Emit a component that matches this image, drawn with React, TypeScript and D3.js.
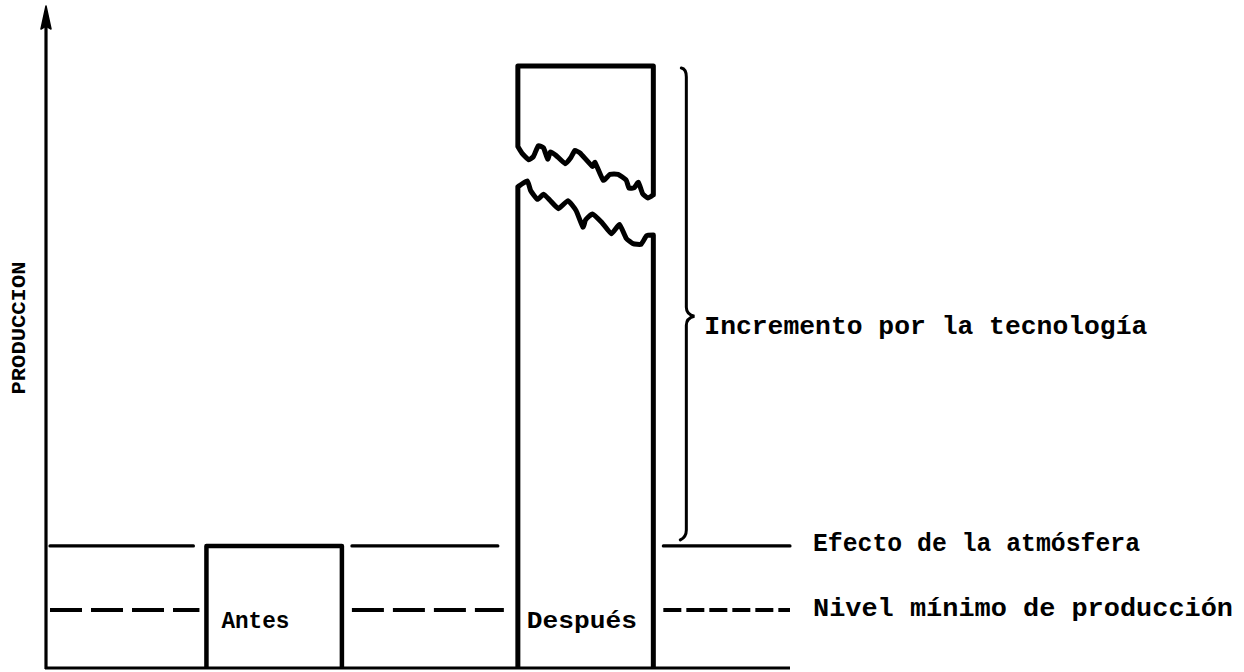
import React, { useEffect, useRef } from 'react';
import * as d3 from 'd3';

// categories and levels (production units, 0-100)
const categories = ['Antes', 'Después'];
const barTops = [18.5, 91.2];
const atmosLevel = 18.5;
const minLevel = 8.8;
const braceTip = 53.3;

const levelLabels = ['Efecto de la atmósfera', 'Nivel mínimo de producción'];
const incrementLabel = 'Incremento por la tecnología';
const axisLabel = 'PRODUCCION';

// broken top of the "Después" bar: [fraction across bar, value]
const breakUpper = [
  [0, 79.0], [0.03, 78.0], [0.08, 77.0], [0.115, 77.5], [0.15, 79.1], [0.19, 78.8],
  [0.22, 77.1], [0.24, 78.2], [0.28, 77.7], [0.35, 76.4], [0.39, 77.3], [0.42, 78.4],
  [0.46, 78.0], [0.55, 76.0], [0.57, 76.6], [0.63, 73.9], [0.68, 74.8], [0.74, 74.8],
  [0.8, 73.9], [0.82, 72.7], [0.86, 72.8], [0.89, 73.6], [0.92, 71.9], [0.96, 71.2], [1, 71.7],
];
const breakLower = [
  [0, 72.9], [0.07, 73.8], [0.095, 72.3], [0.145, 71.0], [0.19, 71.8], [0.24, 70.8],
  [0.3, 69.6], [0.37, 70.8], [0.43, 69.3], [0.48, 66.8], [0.5, 67.9], [0.55, 68.8],
  [0.62, 67.5], [0.69, 65.8], [0.75, 67.2], [0.8, 65.1], [0.85, 64.3], [0.91, 64.2],
  [0.95, 65.5], [1, 65.6],
];

const W = 1244;
const H = 672;
const FONT = '"Liberation Mono", "DejaVu Sans Mono", monospace';

const App = () => {
  const svgRef = useRef<SVGSVGElement>(null);

  useEffect(() => {
    const svg = d3.select(svgRef.current);
    svg.selectAll('*').remove();

    const axisX = 46;
    const axisEnd = 790;
    const y = d3.scaleLinear().domain([0, 100]).range([668, 8]);
    const x = d3.scaleBand()
      .domain(categories)
      .range([axisX, axisEnd])
      .paddingInner(0.565)
      .paddingOuter(0.477)
      .align(0.54);
    const bw = x.bandwidth();

    const g = svg.append('g');

    // y axis with arrow
    g.append('line')
      .attr('x1', axisX).attr('x2', axisX)
      .attr('y1', y(0) + 1).attr('y2', 14)
      .attr('stroke', '#000').attr('stroke-width', 3.2);
    g.append('path')
      .attr('d', `M${axisX},6 L${axisX + 5},29 L${axisX},26 L${axisX - 5},29 Z`)
      .attr('fill', '#000').attr('stroke', '#000').attr('stroke-width', 1.5)
      .attr('stroke-linejoin', 'round');

    // baseline
    g.append('line')
      .attr('x1', axisX - 1).attr('x2', axisEnd)
      .attr('y1', y(0)).attr('y2', y(0))
      .attr('stroke', '#000').attr('stroke-width', 3);

    // reference level segments in the gaps between bars
    const a0 = x('Antes')!;
    const d0 = x('Después')!;
    const gaps = [
      [axisX + 4, a0 - 13],
      [a0 + bw + 10, d0 - 20],
      [d0 + bw + 10, axisEnd],
    ];
    gaps.forEach(([x1, x2], i) => {
      g.append('line')
        .attr('x1', x1).attr('x2', x2)
        .attr('y1', y(atmosLevel)).attr('y2', y(atmosLevel))
        .attr('stroke', '#000').attr('stroke-width', 3.2)
        .attr('stroke-linecap', 'round');
      g.append('line')
        .attr('x1', x1).attr('x2', x2 + (i === 2 ? 0 : 6))
        .attr('y1', y(minLevel)).attr('y2', y(minLevel))
        .attr('stroke', '#000').attr('stroke-width', 4)
        .attr('stroke-dasharray', i === 2 ? '18,5' : '32,9');
    });

    // Antes bar (open at the bottom, sits on the baseline)
    g.append('path')
      .attr('d', `M${a0},${y(0)} L${a0},${y(barTops[0])} L${a0 + bw},${y(barTops[0])} L${a0 + bw},${y(0)}`)
      .attr('fill', 'none').attr('stroke', '#000').attr('stroke-width', 4.5)
      .attr('stroke-linejoin', 'round');

    // Después bar, drawn broken in two pieces
    const line = d3.line<number[]>()
      .x(d => d0 + d[0] * bw)
      .y(d => y(d[1]))
      .curve(d3.curveCardinal.tension(0.6));

    const upper = line(breakUpper)!;
    const upperLast = breakUpper[breakUpper.length - 1];
    g.append('path')
      .attr('d', `${upper} L${d0 + bw},${y(upperLast[1])} L${d0 + bw},${y(barTops[1])} L${d0},${y(barTops[1])} Z`)
      .attr('fill', 'none').attr('stroke', '#000').attr('stroke-width', 5)
      .attr('stroke-linejoin', 'round');

    const lower = line(breakLower)!;
    g.append('path')
      .attr('d', `M${d0},${y(0)} L${d0},${y(breakLower[0][1])} ${lower.replace(/^M[^LC]*/, '')} L${d0 + bw},${y(0)}`)
      .attr('fill', 'none').attr('stroke', '#000').attr('stroke-width', 5)
      .attr('stroke-linejoin', 'round');

    // brace for the technology increment
    const bx = d0 + bw + 33;
    const yt = y(barTops[1]) + 3;
    const yb = y(atmosLevel) - 8;
    const ym = y(braceTip);
    g.append('path')
      .attr('d', `M${bx - 5},${yt - 1} Q${bx},${yt} ${bx},${yt + 8} L${bx},${ym - 9} Q${bx},${ym - 2} ${bx + 8},${ym}`
        + ` Q${bx},${ym + 2} ${bx},${ym + 9} L${bx},${yb - 8} Q${bx},${yb - 1} ${bx - 6},${yb + 2}`)
      .attr('fill', 'none').attr('stroke', '#000').attr('stroke-width', 3)
      .attr('stroke-linecap', 'round');

    // texts
    const txt = (s: string, tx: number, ty: number, size: number, len: number) =>
      g.append('text')
        .attr('x', tx).attr('y', ty)
        .attr('font-family', FONT).attr('font-weight', 700)
        .attr('font-size', size)
        .attr('textLength', len).attr('lengthAdjust', 'spacingAndGlyphs')
        .attr('fill', '#000')
        .text(s);

    txt(categories[0], a0 + 15, y(minLevel) + 18, 23, 68);
    txt(categories[1], d0 + 9, y(minLevel) + 18, 23, 110);
    txt(levelLabels[0], axisEnd + 23, y(atmosLevel) + 5, 26, 327);
    txt(levelLabels[1], axisEnd + 23, y(minLevel) + 6, 26, 420);
    txt(incrementLabel, bx + 18, ym + 18, 26, 443);

    g.append('text')
      .attr('transform', `translate(25,${328}) rotate(-90)`)
      .attr('text-anchor', 'middle')
      .attr('font-family', FONT).attr('font-weight', 700)
      .attr('font-size', 21)
      .attr('textLength', 133).attr('lengthAdjust', 'spacingAndGlyphs')
      .text(axisLabel);
  }, []);

  return (
    <div style={{ position: 'absolute', left: 0, top: 0, background: '#fff' }}>
      <svg ref={svgRef} width={W} height={H} style={{ display: 'block' }}></svg>
    </div>
  );
};

export default App;
